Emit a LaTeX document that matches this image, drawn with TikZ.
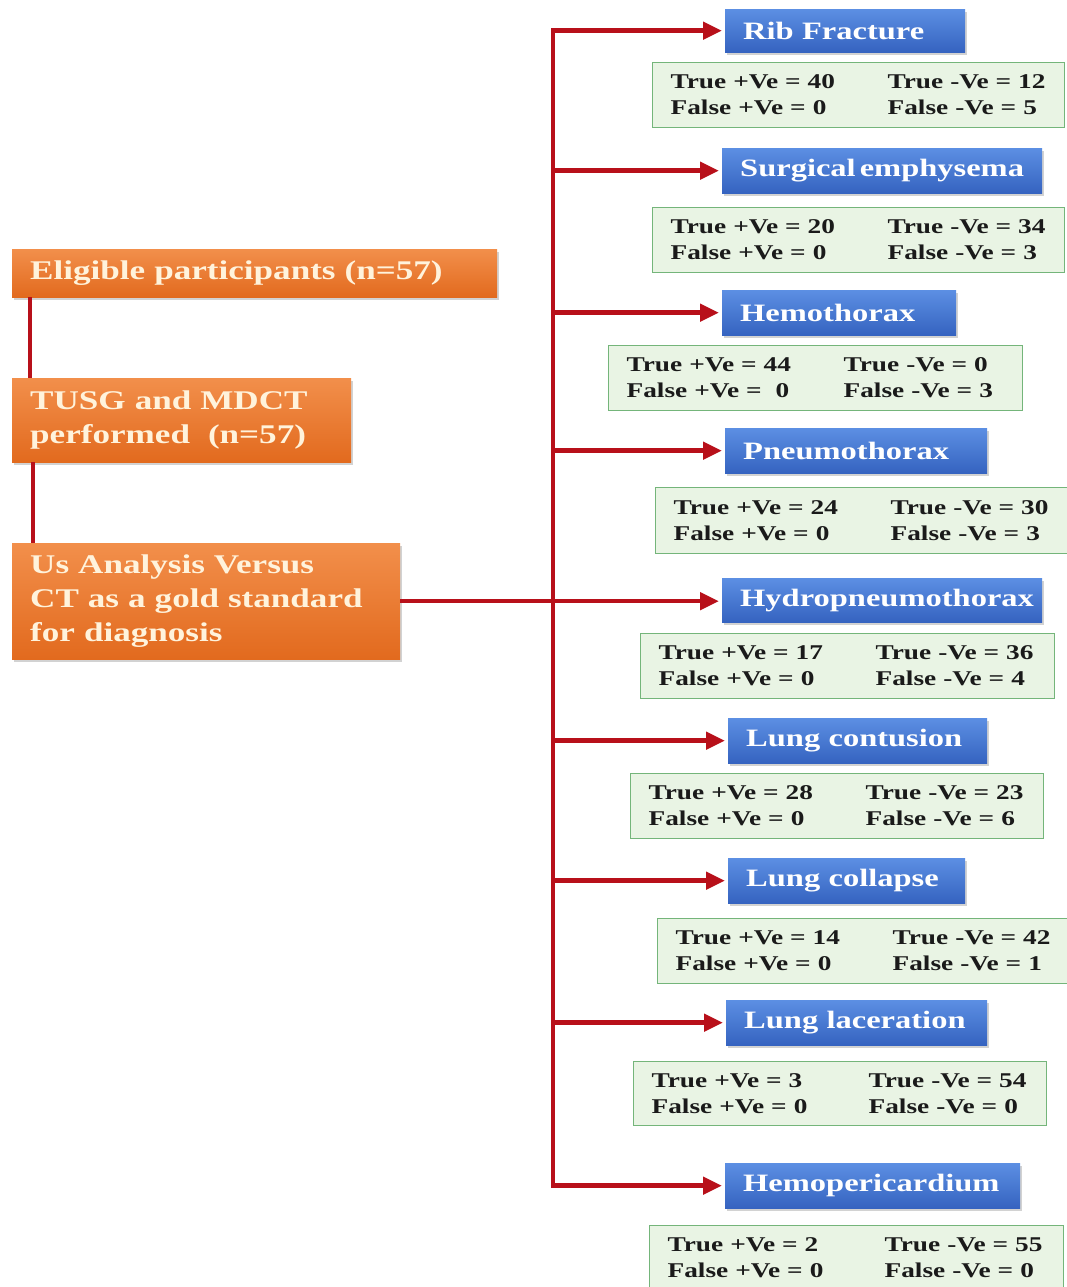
\documentclass[tikz,border=0pt]{standalone}
\usepackage{fontspec}
\setmainfont[FakeStretch=1.3]{Liberation Serif}
\usetikzlibrary{arrows.meta,shadows}
\definecolor{otop}{HTML}{F28F4B}
\definecolor{obot}{HTML}{E26A1E}
\definecolor{btop}{HTML}{5C8FE3}
\definecolor{bbot}{HTML}{3563C0}
\definecolor{gfill}{HTML}{E9F4E4}
\definecolor{gline}{HTML}{74B57A}
\definecolor{conred}{HTML}{B8101A}
\definecolor{cream}{HTML}{FFF3DC}
\definecolor{txtdark}{HTML}{1A1A1A}
\newcommand{\myind}{\hspace*{18pt}}
\newcommand{\mystat}[4]{\myind\makebox[217pt][l]{True +Ve = #1}True -Ve = #2\\\myind\makebox[217pt][l]{False +Ve = #3}False -Ve = #4}
\begin{document}
\begin{tikzpicture}[x=1pt,y=-1pt,
  shad/.style={drop shadow={opacity=0.35,shadow xshift=2pt,shadow yshift=-3pt}},
  obox/.style={shad,top color=otop,bottom color=obot,draw=none,anchor=north west,
    inner xsep=0pt,inner ysep=0pt,align=left,text=cream,
    font=\fontsize{27}{34}\selectfont\bfseries},
  bbox/.style={shad,top color=btop,bottom color=bbot,draw=none,anchor=north west,
    inner xsep=0pt,inner ysep=0pt,align=left,text=white,
    font=\fontsize{25}{30}\selectfont\bfseries},
  gbox/.style={fill=gfill,draw=gline,line width=1.3pt,anchor=north west,
    inner xsep=0pt,inner ysep=0pt,align=left,text=txtdark,
    font=\fontsize{21}{26}\selectfont\bfseries},
  conn/.style={draw=conred,line width=4.5pt},
  tip/.tip={Triangle[length=19pt,width=17pt]},
  arr/.style={conn,-tip,shorten >=3pt},
  arr2/.style={conn,tip-tip,shorten >=3pt,shorten <=3pt}]
\useasboundingbox[fill=white] (0,0) rectangle (1067,1287);
% left column
\node[obox,text width=485pt,minimum height=48pt] (e) at (12,249) {\myind Eligible participants (n=57)};
\node[obox,text width=339pt,minimum height=84pt] (t) at (12,378) {\myind TUSG and MDCT\\\myind performed\ \ (n=57)};
\node[obox,text width=388pt,minimum height=116pt] (u) at (12,543) {\myind Us Analysis Versus\\\myind CT as a gold standard\\\myind for diagnosis};
% blue boxes
\node[bbox,text width=240pt,minimum height=43pt] (rib) at (725,9) {\myind Rib Fracture};
\node[bbox,text width=320pt,minimum height=45pt] (surg) at (722,148) {\myind Surgical\hspace{4pt}emphysema};
\node[bbox,text width=234pt,minimum height=45pt] (hemo) at (722,290) {\myind Hemothorax};
\node[bbox,text width=262pt,minimum height=45pt] (pneu) at (725,428) {\myind Pneumothorax};
\node[bbox,text width=320pt,minimum height=44pt] (hydro) at (722,578) {\myind Hydropneumothorax};
\node[bbox,text width=259pt,minimum height=45pt] (cont) at (728,718) {\myind Lung contusion};
\node[bbox,text width=237pt,minimum height=45pt] (coll) at (728,858) {\myind Lung collapse};
\node[bbox,text width=261pt,minimum height=45pt] (lace) at (726,1000) {\myind Lung laceration};
\node[bbox,text width=295pt,minimum height=45pt] (hp) at (725,1163) {\myind Hemopericardium};
% green boxes
\node[gbox,text width=412pt,minimum height=65pt] (g1) at (652,62) {\mystat{40}{12}{0}{5}};
\node[gbox,text width=412pt,minimum height=65pt] (g2) at (652,207) {\mystat{20}{34}{0}{3}};
\node[gbox,text width=414pt,minimum height=65pt] (g3) at (608,345) {\mystat{44}{0}{\ 0}{3}};
\node[gbox,text width=412pt,minimum height=66pt] (g4) at (655,487) {\mystat{24}{30}{0}{3}};
\node[gbox,text width=414pt,minimum height=65pt] (g5) at (640,633) {\mystat{17}{36}{0}{4}};
\node[gbox,text width=413pt,minimum height=65pt] (g6) at (630,773) {\mystat{28}{23}{0}{6}};
\node[gbox,text width=410pt,minimum height=65pt] (g7) at (657,918) {\mystat{14}{42}{0}{1}};
\node[gbox,text width=413pt,minimum height=64pt] (g8) at (633,1061) {\mystat{3}{54}{0}{0}};
\node[gbox,text width=414pt,minimum height=64pt] (g9) at (649,1225) {\mystat{2}{55}{0}{0}};
% connectors
\coordinate (v1) at (30,0);
\coordinate (v2) at (33,0);
\coordinate (tr) at (553,0);
\draw[conn] (e.south -| v1) -- (t.north -| v1);
\draw[conn] (t.south -| v2) -- (u.north -| v2);
\draw[arr2,line join=miter] (rib.west) -- (rib.west -| tr) -- (hp.west -| tr) -- (hp.west);
\draw[arr] (u.east) -- (u.east -| hydro.west);
\foreach \b in {surg,hemo,pneu,cont,coll,lace}
  \draw[arr] (\b.west -| tr) -- (\b.west);
\end{tikzpicture}
\end{document}
